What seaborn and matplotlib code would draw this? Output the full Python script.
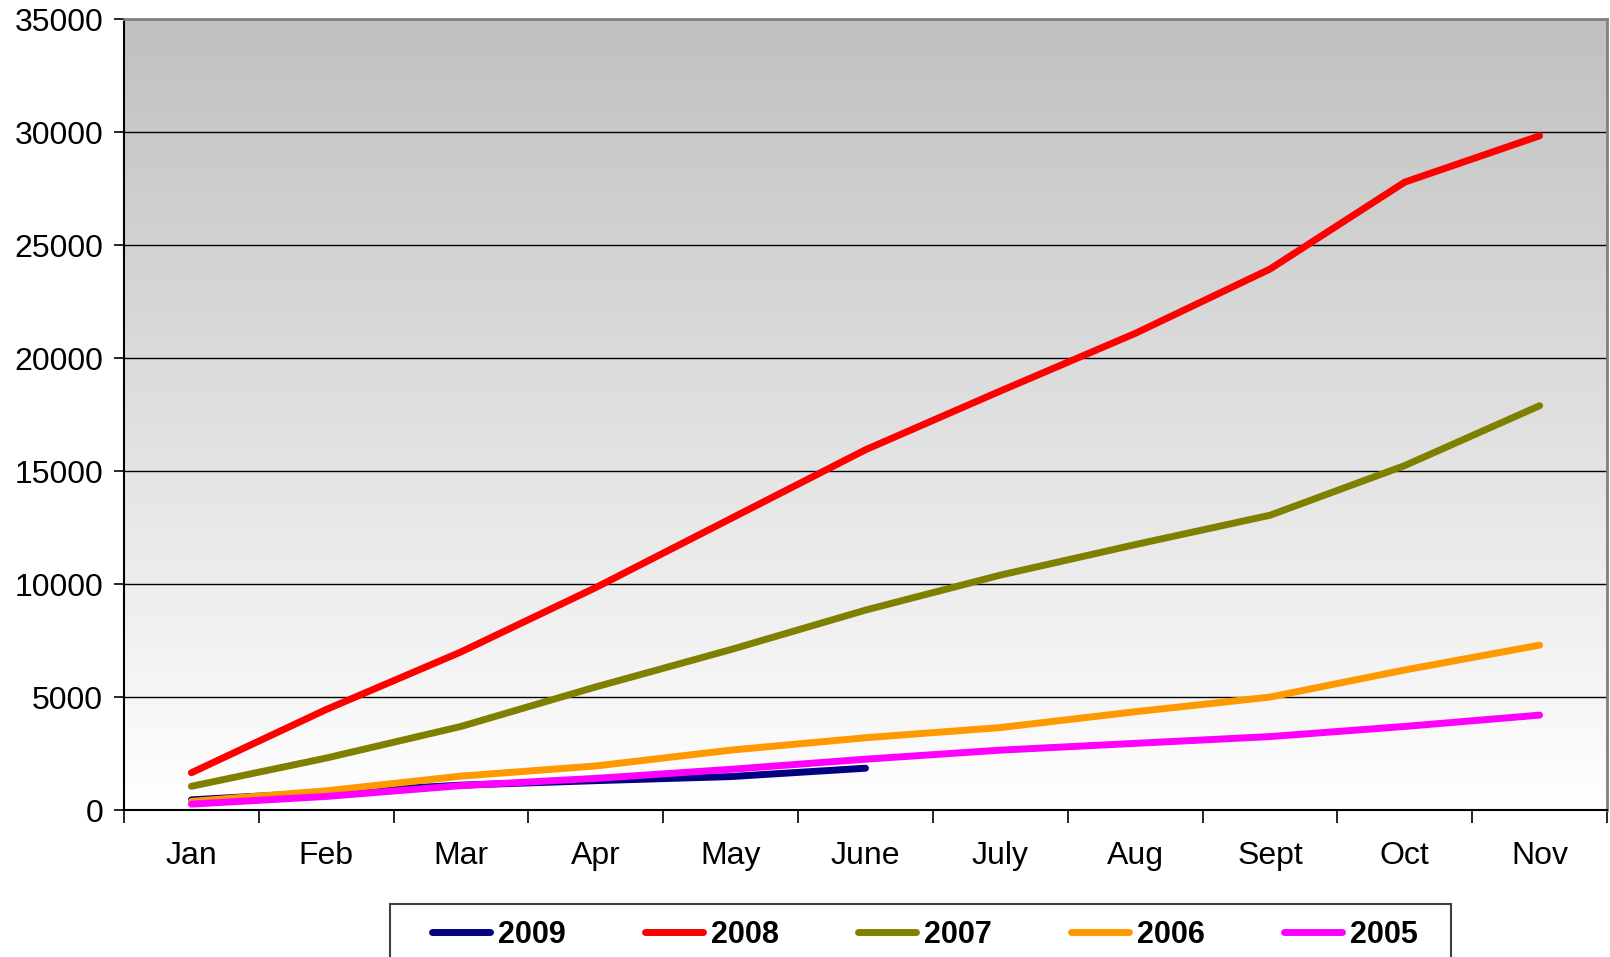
import numpy as np
import pandas as pd
import matplotlib
matplotlib.use("Agg")
import matplotlib.pyplot as plt
from matplotlib.patches import Rectangle
from matplotlib.ticker import FixedLocator
import seaborn as sns

months = ["Jan", "Feb", "Mar", "Apr", "May", "June", "July", "Aug", "Sept", "Oct", "Nov"]
years = ["2009", "2008", "2007", "2006", "2005"]

v2009 = [450, 780, 1100, 1300, 1480, 1850]
v2008 = [1650, 4450, 7000, 9850, 12900, 15950, 18550, 21100, 23950, 27800, 29850]
v2007 = [1050, 2300, 3700, 5450, 7100, 8850, 10400, 11750, 13050, 15250, 17900]
v2006 = [380, 850, 1500, 1950, 2650, 3200, 3650, 4350, 5000, 6200, 7300]
v2005 = [260, 600, 1080, 1400, 1800, 2250, 2650, 2950, 3250, 3700, 4200]

series = {"2009": v2009, "2008": v2008, "2007": v2007, "2006": v2006, "2005": v2005}
colors = {"2009": "#000080", "2008": "#FF0000", "2007": "#808000",
          "2006": "#FF9900", "2005": "#FF00FF"}
yticks = [0, 5000, 10000, 15000, 20000, 25000, 30000, 35000]

rows = []
for yr in years:
    for i, v in enumerate(series[yr]):
        rows.append({"month": i, "value": v, "year": yr})
df = pd.DataFrame(rows)

sns.set_style("white")
plt.rcParams["font.family"] = ["Liberation Sans", "DejaVu Sans"]
plt.rcParams["text.color"] = "black"
plt.rcParams["xtick.color"] = "black"
plt.rcParams["ytick.color"] = "black"

fig = plt.figure(figsize=(16.1, 9.57), dpi=100)
ax = fig.add_axes([124 / 1610, 1 - 810 / 957, (1607 - 124) / 1610, (810 - 19.5) / 957])

# grey-to-white vertical gradient behind the plot
grad = np.linspace(0, 1, 256).reshape(-1, 1)
cmap = matplotlib.colors.LinearSegmentedColormap.from_list("bg", ["#FFFFFF", "#C0C0C0"])
ax.imshow(grad, aspect="auto", cmap=cmap, origin="lower",
          extent=[-0.5, 10.5, 0, 35000], zorder=0)

for y in yticks[1:-1]:
    ax.axhline(y, color="black", lw=1.0, zorder=1)

sns.lineplot(data=df, x="month", y="value", hue="year", hue_order=years,
             palette=colors, linewidth=5.0, ax=ax, legend=False, zorder=3,
             solid_capstyle="round", sort=False)

ax.set_xlim(-0.5, 10.5)
ax.set_ylim(0, 35000)
ax.set_xlabel("")
ax.set_ylabel("")

ax.set_xticks(range(len(months)))
ax.set_xticklabels(months)
ax.xaxis.set_minor_locator(FixedLocator(np.arange(-0.5, 11, 1.0)))
ax.tick_params(axis="x", which="major", length=0, pad=22, labelsize=23, labelcolor="black")
ax.tick_params(axis="x", which="minor", length=9, width=1.2, color="black", direction="out", bottom=True)

ax.set_yticks(yticks)
ax.set_yticklabels([str(v) for v in yticks])
ax.tick_params(axis="y", which="major", length=7, width=1.2, color="black", pad=8,
               labelsize=23, labelcolor="black", direction="out", left=True)

for side in ["left", "bottom"]:
    ax.spines[side].set_color("black")
    ax.spines[side].set_linewidth(1.5)
for side in ["top", "right"]:
    ax.spines[side].set_color("#808080")
    ax.spines[side].set_linewidth(2)

# legend box along the bottom edge
box = Rectangle((390 / 1610, 1 - 962 / 957), (1451 - 390) / 1610, (962 - 904) / 957,
                transform=fig.transFigure, facecolor="white", edgecolor="#404040",
                lw=1.5, zorder=0)
fig.patches.append(box)

handles = [plt.Line2D([], [], color=colors[yr], lw=5.0, solid_capstyle="round") for yr in years]
leg = fig.legend(handles, years, loc="center", bbox_to_anchor=(925 / 1610, 1 - 935 / 957),
                 ncol=5, frameon=False, handlelength=1.9, handletextpad=0.25,
                 columnspacing=2.6, borderaxespad=0,
                 prop={"family": "Liberation Sans", "weight": "bold", "size": 22})
for t in leg.get_texts():
    t.set_color("black")

fig.savefig("out.png", dpi=100)
